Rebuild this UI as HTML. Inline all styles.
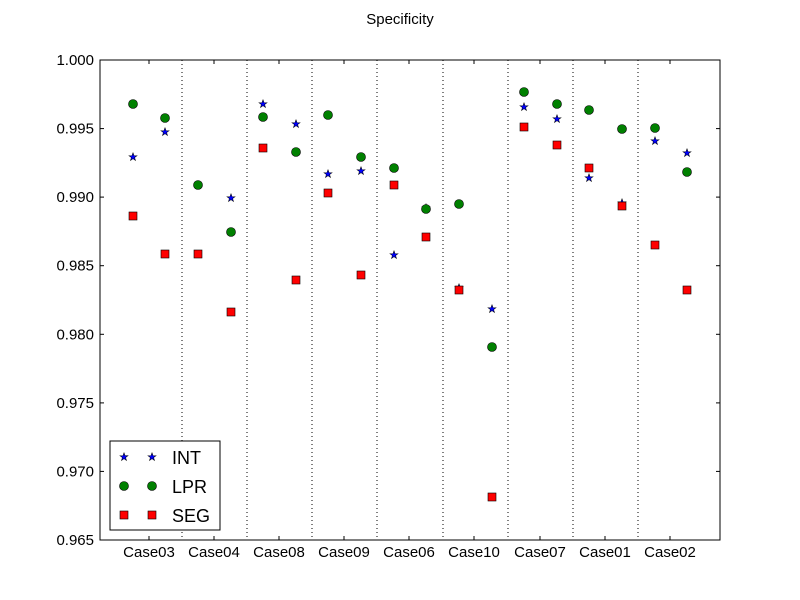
<!DOCTYPE html>
<html><head><meta charset="utf-8"><style>
html,body{margin:0;padding:0;background:#fff;}
svg{display:block;font-family:"Liberation Sans","DejaVu Sans",sans-serif;}
</style></head><body>
<svg width="800" height="600" xmlns="http://www.w3.org/2000/svg">
<defs>
<path id="st" transform="scale(0.85)" d="M0,-5 L1.18,-1.62 L4.76,-1.55 L1.9,0.62 L2.94,4.05 L0,2 L-2.94,4.05 L-1.9,0.62 L-4.76,-1.55 L-1.18,-1.62 Z" fill="#0000ff" stroke="#000" stroke-width="0.6"/>
<circle id="ci" r="4.5" fill="#008000" stroke="#000" stroke-width="0.6"/>
<rect id="sq" x="-4" y="-4" width="8" height="8" fill="#ff0000" stroke="#000" stroke-width="0.6"/>
</defs>
<rect width="800" height="600" fill="#fff"/>
<text x="400" y="24" text-anchor="middle" font-size="15">Specificity</text>
<g stroke="#000" stroke-width="1" stroke-dasharray="1,3">
<line x1="182" y1="60" x2="182" y2="540"/><line x1="247" y1="60" x2="247" y2="540"/>
<line x1="312" y1="60" x2="312" y2="540"/><line x1="377" y1="60" x2="377" y2="540"/>
<line x1="443" y1="60" x2="443" y2="540"/><line x1="508" y1="60" x2="508" y2="540"/>
<line x1="573" y1="60" x2="573" y2="540"/><line x1="638" y1="60" x2="638" y2="540"/>
</g>
<rect x="100" y="60" width="620" height="480" fill="none" stroke="#000" stroke-width="1"/>
<g stroke="#000" stroke-width="1">
<line x1="100" y1="60" x2="104" y2="60"/><line x1="716" y1="60" x2="720" y2="60"/>
<line x1="100" y1="128.6" x2="104" y2="128.6"/><line x1="716" y1="128.6" x2="720" y2="128.6"/>
<line x1="100" y1="197.1" x2="104" y2="197.1"/><line x1="716" y1="197.1" x2="720" y2="197.1"/>
<line x1="100" y1="265.7" x2="104" y2="265.7"/><line x1="716" y1="265.7" x2="720" y2="265.7"/>
<line x1="100" y1="334.3" x2="104" y2="334.3"/><line x1="716" y1="334.3" x2="720" y2="334.3"/>
<line x1="100" y1="402.9" x2="104" y2="402.9"/><line x1="716" y1="402.9" x2="720" y2="402.9"/>
<line x1="100" y1="471.4" x2="104" y2="471.4"/><line x1="716" y1="471.4" x2="720" y2="471.4"/>
<line x1="100" y1="540" x2="104" y2="540"/><line x1="716" y1="540" x2="720" y2="540"/>
</g>
<g stroke="#000" stroke-width="1">
<line x1="149" y1="540" x2="149" y2="536"/><line x1="149" y1="60" x2="149" y2="64"/>
<line x1="214" y1="540" x2="214" y2="536"/><line x1="214" y1="60" x2="214" y2="64"/>
<line x1="279" y1="540" x2="279" y2="536"/><line x1="279" y1="60" x2="279" y2="64"/>
<line x1="344" y1="540" x2="344" y2="536"/><line x1="344" y1="60" x2="344" y2="64"/>
<line x1="409" y1="540" x2="409" y2="536"/><line x1="409" y1="60" x2="409" y2="64"/>
<line x1="474" y1="540" x2="474" y2="536"/><line x1="474" y1="60" x2="474" y2="64"/>
<line x1="540" y1="540" x2="540" y2="536"/><line x1="540" y1="60" x2="540" y2="64"/>
<line x1="605" y1="540" x2="605" y2="536"/><line x1="605" y1="60" x2="605" y2="64"/>
<line x1="670" y1="540" x2="670" y2="536"/><line x1="670" y1="60" x2="670" y2="64"/>
</g>
<g font-size="15" text-anchor="end">
<text x="94" y="65">1.000</text><text x="94" y="133.6">0.995</text>
<text x="94" y="202.1">0.990</text><text x="94" y="270.7">0.985</text>
<text x="94" y="339.3">0.980</text><text x="94" y="407.9">0.975</text>
<text x="94" y="476.4">0.970</text><text x="94" y="545">0.965</text>
</g>
<g font-size="15" text-anchor="middle">
<text x="149" y="557">Case03</text><text x="214" y="557">Case04</text>
<text x="279" y="557">Case08</text><text x="344" y="557">Case09</text>
<text x="409" y="557">Case06</text><text x="474" y="557">Case10</text>
<text x="540" y="557">Case07</text><text x="605" y="557">Case01</text>
<text x="670" y="557">Case02</text>
</g>
<!-- INT -->
<use href="#st" x="133" y="157"/><use href="#st" x="165" y="132"/>
<use href="#st" x="198" y="185"/><use href="#st" x="231" y="198"/>
<use href="#st" x="263" y="104"/><use href="#st" x="296" y="124"/>
<use href="#st" x="328" y="174"/><use href="#st" x="361" y="171"/>
<use href="#st" x="394" y="255"/><use href="#st" x="426" y="208"/>
<use href="#st" x="459" y="288"/><use href="#st" x="492" y="309"/>
<use href="#st" x="524" y="107"/><use href="#st" x="557" y="119"/>
<use href="#st" x="589" y="178"/><use href="#st" x="622" y="203"/>
<use href="#st" x="655" y="141"/><use href="#st" x="687" y="153"/>
<!-- LPR -->
<use href="#ci" x="133" y="104"/><use href="#ci" x="165" y="118"/>
<use href="#ci" x="198" y="185"/><use href="#ci" x="231" y="232"/>
<use href="#ci" x="263" y="117"/><use href="#ci" x="296" y="152"/>
<use href="#ci" x="328" y="115"/><use href="#ci" x="361" y="157"/>
<use href="#ci" x="394" y="168"/><use href="#ci" x="426" y="209"/>
<use href="#ci" x="459" y="204"/><use href="#ci" x="492" y="347"/>
<use href="#ci" x="524" y="92"/><use href="#ci" x="557" y="104"/>
<use href="#ci" x="589" y="110"/><use href="#ci" x="622" y="129"/>
<use href="#ci" x="655" y="128"/><use href="#ci" x="687" y="172"/>
<!-- SEG -->
<use href="#sq" x="133" y="216"/><use href="#sq" x="165" y="254"/>
<use href="#sq" x="198" y="254"/><use href="#sq" x="231" y="312"/>
<use href="#sq" x="263" y="148"/><use href="#sq" x="296" y="280"/>
<use href="#sq" x="328" y="193"/><use href="#sq" x="361" y="275"/>
<use href="#sq" x="394" y="185"/><use href="#sq" x="426" y="237"/>
<use href="#sq" x="459" y="290"/><use href="#sq" x="492" y="497"/>
<use href="#sq" x="524" y="127"/><use href="#sq" x="557" y="145"/>
<use href="#sq" x="589" y="168"/><use href="#sq" x="622" y="206"/>
<use href="#sq" x="655" y="245"/><use href="#sq" x="687" y="290"/>
<!-- legend -->
<rect x="110" y="441" width="110" height="89" fill="#fff" stroke="#000" stroke-width="1"/>
<use href="#st" x="124" y="457"/><use href="#st" x="152" y="457"/>
<use href="#ci" x="124" y="486"/><use href="#ci" x="152" y="486"/>
<use href="#sq" x="124" y="515"/><use href="#sq" x="152" y="515"/>
<g font-size="18">
<text x="172" y="464">INT</text><text x="172" y="493">LPR</text><text x="172" y="522">SEG</text>
</g>
</svg>
</body></html>
